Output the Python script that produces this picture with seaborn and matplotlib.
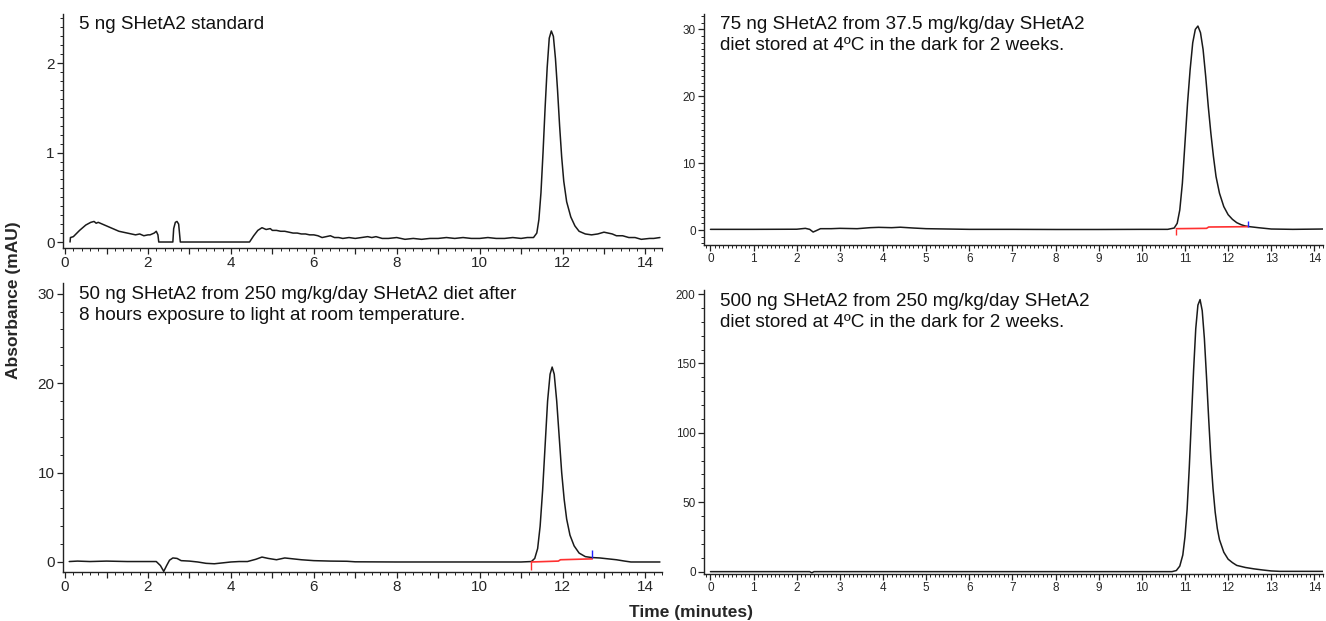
import numpy as np
import pandas as pd
import seaborn as sns
import matplotlib.pyplot as plt
from matplotlib.ticker import MultipleLocator, FuncFormatter

# Panel A: 5 ng estándar
t_std = [0.12, 0.13, 0.2, 0.35, 0.5, 0.62, 0.7, 0.75, 0.8, 0.95, 1.1, 1.2, 1.3, 1.4, 1.5,
         1.6, 1.7, 1.8, 1.9, 2.0, 2.05, 2.15, 2.2, 2.24, 2.26, 2.6, 2.62, 2.66, 2.7, 2.74,
         2.76, 2.78, 4.45, 4.55, 4.65, 4.75, 4.8, 4.85, 4.95, 5.0, 5.1, 5.2, 5.3, 5.4, 5.5,
         5.6, 5.7, 5.8, 5.9, 6.0, 6.1, 6.2, 6.3, 6.4, 6.5, 6.6, 6.7, 6.85, 7.0, 7.15, 7.3,
         7.4, 7.5, 7.65, 7.8, 8.0, 8.2, 8.4, 8.6, 8.8, 9.0, 9.2, 9.4, 9.6, 9.8, 10.0, 10.2,
         10.4, 10.6, 10.8, 11.0, 11.15, 11.3, 11.38, 11.43, 11.48, 11.53, 11.58,
         11.63, 11.68, 11.73, 11.78, 11.83, 11.88, 11.93, 11.98, 12.03, 12.1, 12.2, 12.3,
         12.4, 12.55, 12.7, 12.85, 13.0, 13.1, 13.2, 13.3, 13.45, 13.6, 13.75, 13.9, 14.1,
         14.2, 14.35]
a_std = [0.0, 0.05, 0.06, 0.13, 0.19, 0.22, 0.23, 0.21, 0.22, 0.19, 0.16, 0.14, 0.12, 0.11, 0.1,
         0.09, 0.08, 0.09, 0.07, 0.08, 0.08, 0.1, 0.12, 0.08, 0.0, 0.0, 0.15, 0.22, 0.23, 0.2,
         0.1, 0.0, 0.0, 0.07, 0.13, 0.16, 0.15, 0.14, 0.15, 0.13, 0.13, 0.12, 0.12, 0.11, 0.1,
         0.1, 0.09, 0.09, 0.08, 0.08, 0.07, 0.05, 0.06, 0.07, 0.05, 0.05, 0.04, 0.05, 0.04, 0.05, 0.06,
         0.05, 0.06, 0.04, 0.04, 0.05, 0.03, 0.04, 0.03, 0.04, 0.04, 0.05, 0.04, 0.05, 0.04, 0.04, 0.05,
         0.04, 0.04, 0.05, 0.04, 0.05, 0.05, 0.1, 0.25, 0.55, 1.0, 1.5,
         1.95, 2.28, 2.36, 2.3, 2.05, 1.7, 1.3, 0.95, 0.68, 0.45, 0.28, 0.18,
         0.12, 0.09, 0.08, 0.09, 0.11, 0.1, 0.09, 0.07, 0.07, 0.05, 0.05, 0.03, 0.04,
         0.04, 0.05]

# Panel B: 75 ng, dieta 37.5 mg/kg/día, 4 ºC
t_75 = [0.0, 1.0, 2.0, 2.2, 2.3, 2.38, 2.45, 2.55, 2.8, 3.0, 3.4, 3.7, 3.9, 4.2, 4.4, 4.7,
        5.0, 5.5, 6.0, 7.0, 8.0, 9.0, 10.0, 10.6, 10.75, 10.82, 10.88, 10.94, 11.0, 11.06,
        11.12, 11.18, 11.24, 11.3, 11.36, 11.42, 11.48, 11.54, 11.6, 11.66, 11.72, 11.8,
        11.9, 12.0, 12.1, 12.2, 12.3, 12.4, 12.5, 12.7, 13.0, 13.5, 14.2]
a_75 = [0.1, 0.1, 0.12, 0.25, 0.1, -0.3, -0.1, 0.2, 0.2, 0.25, 0.2, 0.35, 0.4, 0.35, 0.42, 0.3,
        0.2, 0.15, 0.1, 0.1, 0.08, 0.08, 0.1, 0.1, 0.3, 1.0, 3.0, 7.0, 13.0, 19.0,
        24.0, 28.0, 30.0, 30.5, 29.5, 27.0, 23.0, 18.5, 14.5, 11.0, 8.0, 5.5,
        3.5, 2.3, 1.6, 1.1, 0.8, 0.6, 0.5, 0.35, 0.15, 0.1, 0.15]
base_75_t = [10.8, 11.5, 11.55, 12.45]
base_75_a = [0.2, 0.25, 0.45, 0.5]
start_75 = (10.8, -0.8, 0.2)   # tiempo, y inferior, y superior
end_75 = (12.45, 0.5, 1.4)

# Panel C: 50 ng, dieta 250 mg/kg/día, 8 h de luz
t_50 = [0.1, 0.3, 0.6, 1.0, 1.5, 2.0, 2.2, 2.3, 2.38, 2.45, 2.52, 2.6, 2.7, 2.8, 3.0, 3.2,
        3.4, 3.6, 3.8, 4.0, 4.2, 4.4, 4.6, 4.75, 4.9, 5.1, 5.3, 5.5, 5.7, 6.0, 6.4, 6.8,
        7.0, 8.0, 9.0, 10.0, 11.0, 11.25, 11.33, 11.4, 11.46, 11.52, 11.58, 11.64, 11.7,
        11.75, 11.8, 11.86, 11.92, 11.98, 12.04, 12.1, 12.18, 12.28, 12.4, 12.55, 12.7,
        12.9, 13.1, 13.3, 13.5, 13.65, 14.35]
a_50 = [0.05, 0.1, 0.05, 0.1, 0.05, 0.05, 0.05, -0.4, -1.05, -0.4, 0.2, 0.45, 0.4, 0.15, 0.1, 0.0,
        -0.15, -0.2, -0.1, 0.0, 0.05, 0.05, 0.3, 0.55, 0.4, 0.25, 0.45, 0.35, 0.25, 0.15, 0.1, 0.08,
        0.02, 0.0, 0.0, 0.0, 0.0, 0.05, 0.4, 1.5, 4.0, 8.0, 13.0, 18.0, 21.0,
        21.8, 21.0, 18.0, 14.0, 10.0, 7.0, 4.8, 3.0, 1.8, 1.0, 0.6, 0.5,
        0.45, 0.35, 0.25, 0.1, 0.0, 0.0]
base_50_t = [11.25, 11.9, 11.95, 12.72]
base_50_a = [0.0, 0.1, 0.25, 0.35]
start_50 = (11.25, -0.9, 0.0)
end_50 = (12.72, 0.4, 1.3)

# Panel D: 500 ng, dieta 250 mg/kg/día, 4 ºC
t_500 = [0.0, 2.3, 2.35, 2.4, 10.7, 10.8, 10.88, 10.95, 11.0, 11.05, 11.1, 11.15, 11.2,
         11.25, 11.3, 11.35, 11.4, 11.45, 11.5, 11.55, 11.6, 11.65, 11.7, 11.75, 11.8,
         11.9, 12.0, 12.1, 12.2, 12.4, 12.6, 12.8, 13.0, 13.2, 14.2]
a_500 = [0.0, 0.0, -0.8, 0.0, 0.0, 0.8, 4.0, 12.0, 25.0, 45.0, 75.0, 110.0, 145.0,
         175.0, 192.0, 196.0, 188.0, 168.0, 140.0, 110.0, 82.0, 60.0, 43.0, 31.0, 23.0,
         14.0, 9.0, 6.5, 4.5, 3.0, 2.0, 1.2, 0.5, 0.2, 0.2]

titulos = [
    "5 ng SHetA2 standard",
    "75 ng SHetA2 from 37.5 mg/kg/day SHetA2\ndiet stored at 4ºC in the dark for 2 weeks.",
    "50 ng SHetA2 from 250 mg/kg/day SHetA2 diet after\n8 hours exposure to light at room temperature.",
    "500 ng SHetA2 from 250 mg/kg/day SHetA2\ndiet stored at 4ºC in the dark for 2 weeks.",
]

# ---- estilo ----
sns.set_theme(style="ticks")
plt.rcParams["font.family"] = ["Liberation Sans", "DejaVu Sans"]

fig = plt.figure(figsize=(13.26, 6.21), dpi=100)
W, H = 1326, 621


def make_ax(left, top, right, bottom):
    return fig.add_axes([left / W, 1 - bottom / H, (right - left) / W, (bottom - top) / H])


ax1 = make_ax(63, 14, 662, 248)
ax2 = make_ax(704, 14, 1323, 245)
ax3 = make_ax(63, 283, 662, 572)
ax4 = make_ax(704, 290, 1323, 574)

trazas = [(ax1, t_std, a_std), (ax2, t_75, a_75), (ax3, t_50, a_50), (ax4, t_500, a_500)]
for ax, t, a in trazas:
    sns.lineplot(x=t, y=a, ax=ax, color="#1a1a1a", lw=1.1, estimator=None, sort=False)

# líneas base de integración (rojo) y marcas de inicio/fin
for ax, bt, ba, ini, fin in [(ax2, base_75_t, base_75_a, start_75, end_75),
                             (ax3, base_50_t, base_50_a, start_50, end_50)]:
    sns.lineplot(x=bt, y=ba, ax=ax, color="#ff3030", lw=1.2, estimator=None, sort=False)
    ax.vlines(ini[0], ini[1], ini[2], color="#ff3030", lw=1.0)
    ax.vlines(fin[0], fin[1], fin[2], color="#2020ff", lw=1.0)

# límites y ticks
ax1.set(xlim=(-0.05, 14.4), ylim=(-0.067, 2.55))
ax2.set(xlim=(-0.15, 14.2), ylim=(-2.24, 32.3))
ax3.set(xlim=(-0.05, 14.4), ylim=(-1.12, 31.2))
ax4.set(xlim=(-0.15, 14.2), ylim=(-1.7, 202.9))

cada_dos = FuncFormatter(lambda v, p: f"{v:.0f}" if round(v) % 2 == 0 else "")
for ax in (ax1, ax3):
    ax.xaxis.set_major_locator(MultipleLocator(1))
    ax.xaxis.set_major_formatter(cada_dos)
    ax.xaxis.set_minor_locator(MultipleLocator(0.2))
    ax.tick_params(labelsize=11)
for ax in (ax2, ax4):
    ax.xaxis.set_major_locator(MultipleLocator(1))
    ax.xaxis.set_minor_locator(MultipleLocator(0.1))
    ax.tick_params(labelsize=8.5)

ax1.yaxis.set_major_locator(MultipleLocator(1))
ax1.yaxis.set_minor_locator(MultipleLocator(0.1))
ax2.yaxis.set_major_locator(MultipleLocator(10))
ax2.yaxis.set_minor_locator(MultipleLocator(1))
ax3.yaxis.set_major_locator(MultipleLocator(10))
ax3.yaxis.set_minor_locator(MultipleLocator(2))
ax4.yaxis.set_major_locator(MultipleLocator(50))
ax4.yaxis.set_minor_locator(MultipleLocator(10))

for ax, titulo in zip((ax1, ax2, ax3, ax4), titulos):
    sns.despine(ax=ax)
    for s in ("left", "bottom"):
        ax.spines[s].set_linewidth(1.0)
        ax.spines[s].set_color("#222222")
    ax.tick_params(which="major", length=4, width=0.9, pad=2, color="#222222")
    ax.tick_params(which="minor", length=2.5, width=0.7, color="#222222")
    ax.text(0.026, 0.99, titulo, transform=ax.transAxes, ha="left", va="top",
            fontsize=13.6, linespacing=1.32, color="#111111")

fig.text(14 / W, 1 - 300 / H, "Absorbance (mAU)", rotation=90, ha="center", va="center",
         fontsize=12.5, fontweight="bold")
fig.text(691 / W, 1 - 612 / H, "Time (minutes)", ha="center", va="center",
         fontsize=12.5, fontweight="bold")

fig.savefig("out.png", dpi=100)
